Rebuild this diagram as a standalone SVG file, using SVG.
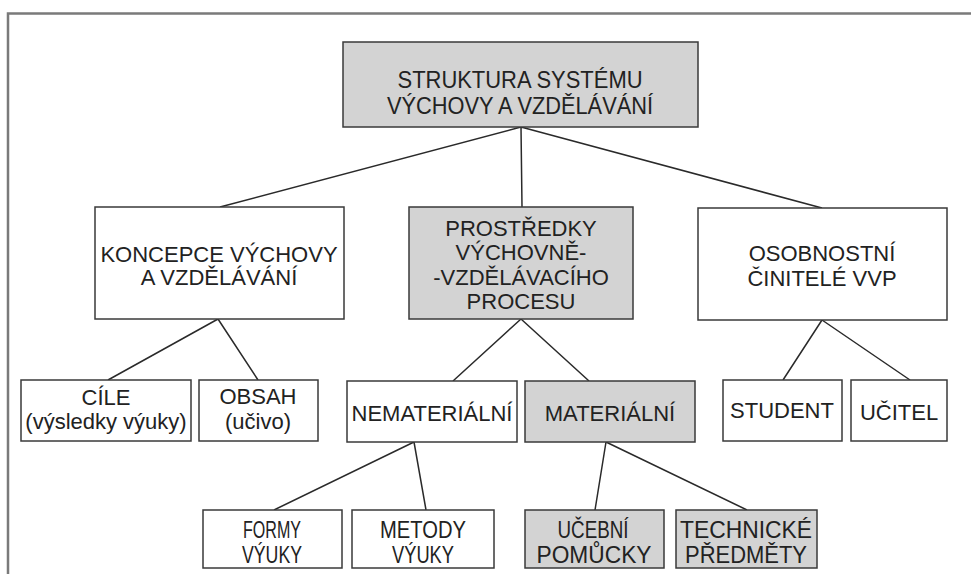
<svg xmlns="http://www.w3.org/2000/svg" width="971" height="574" viewBox="0 0 971 574">
<style>
.box{fill:#ffffff;stroke:#3a3a3a;stroke-width:1.5}
.grey{fill:#d3d3d3}
.t{font-family:"Liberation Sans",Arial,sans-serif;font-size:22px;fill:#222;text-anchor:middle}
.n{font-size:24px}
.c{stroke:#2a2a2a;stroke-width:1.5;fill:none}
</style>
<rect width="971" height="574" fill="#ffffff"/>
<path d="M8 574 V13.5 H971" fill="none" stroke="#7a7a7a" stroke-width="2.5"/>
<g id="connectors">
<path class="c" d="M521 127 L220 207 M521 127 L522 207 M521 127 L822 208"/>
<path class="c" d="M218 319 L108 380 M218 319 L258 380"/>
<path class="c" d="M521 319 L453 381 M521 319 L589 381"/>
<path class="c" d="M822 320 L783 380 M822 320 L910 380"/>
<path class="c" d="M414 442 L274 510 M414 442 L426 510"/>
<path class="c" d="M606 442 L595 510 M606 442 L747 510"/>
</g>
<g id="root">
<rect class="box grey" x="343" y="42" width="355" height="85"/>
<text class="t n" x="520" y="88" textLength="245" lengthAdjust="spacingAndGlyphs">STRUKTURA SYSTÉMU</text>
<text class="t n" x="520" y="114" textLength="266" lengthAdjust="spacingAndGlyphs">VÝCHOVY A VZDĚLÁVÁNÍ</text>
</g>
<g id="koncepce">
<rect class="box" x="95" y="207" width="249" height="112"/>
<text class="t" x="219" y="262">KONCEPCE VÝCHOVY</text>
<text class="t" x="219" y="285">A VZDĚLÁVÁNÍ</text>
</g>
<g id="prostredky">
<rect class="box grey" x="409" y="207" width="224" height="112"/>
<text class="t" x="521" y="236">PROSTŘEDKY</text>
<text class="t" x="521" y="260">VÝCHOVNĚ-</text>
<text class="t" x="521" y="285">-VZDĚLÁVACÍHO</text>
<text class="t" x="521" y="309">PROCESU</text>
</g>
<g id="osobnostni">
<rect class="box" x="698" y="208" width="249" height="112"/>
<text class="t" x="822" y="261">OSOBNOSTNÍ</text>
<text class="t" x="822" y="286">ČINITELÉ VVP</text>
</g>
<g id="cile">
<rect class="box" x="21" y="380" width="170" height="61"/>
<text class="t" x="106" y="405">CÍLE</text>
<text class="t" x="106" y="429">(výsledky výuky)</text>
</g>
<g id="obsah">
<rect class="box" x="199" y="380" width="119" height="61"/>
<text class="t" x="258" y="404">OBSAH</text>
<text class="t" x="258" y="429">(učivo)</text>
</g>
<g id="nematerialni">
<rect class="box" x="347" y="381" width="170" height="61"/>
<text class="t" x="432" y="421">NEMATERIÁLNÍ</text>
</g>
<g id="materialni">
<rect class="box grey" x="525" y="381" width="170" height="61"/>
<text class="t" x="610" y="421">MATERIÁLNÍ</text>
</g>
<g id="student">
<rect class="box" x="723" y="380" width="119" height="61"/>
<text class="t" x="782" y="418">STUDENT</text>
</g>
<g id="ucitel">
<rect class="box" x="851" y="380" width="96" height="61"/>
<text class="t" x="899" y="420">UČITEL</text>
</g>
<g id="formy">
<rect class="box" x="203" y="510" width="139" height="58"/>
<text class="t n" x="272" y="538" textLength="58" lengthAdjust="spacingAndGlyphs">FORMY</text>
<text class="t n" x="272" y="563" textLength="60" lengthAdjust="spacingAndGlyphs">VÝUKY</text>
</g>
<g id="metody">
<rect class="box" x="352" y="510" width="142" height="58"/>
<text class="t n" x="423" y="538" textLength="86" lengthAdjust="spacingAndGlyphs">METODY</text>
<text class="t n" x="423" y="563" textLength="62" lengthAdjust="spacingAndGlyphs">VÝUKY</text>
</g>
<g id="ucebni">
<rect class="box grey" x="525" y="510" width="139" height="58"/>
<text class="t n" x="593" y="538" textLength="71" lengthAdjust="spacingAndGlyphs">UČEBNÍ</text>
<text class="t n" x="594" y="563" textLength="115" lengthAdjust="spacingAndGlyphs">POMŮCKY</text>
</g>
<g id="technicke">
<rect class="box grey" x="676" y="510" width="141" height="58"/>
<text class="t n" x="746" y="538" textLength="132" lengthAdjust="spacingAndGlyphs">TECHNICKÉ</text>
<text class="t n" x="746" y="563" textLength="122" lengthAdjust="spacingAndGlyphs">PŘEDMĚTY</text>
</g>
</svg>
